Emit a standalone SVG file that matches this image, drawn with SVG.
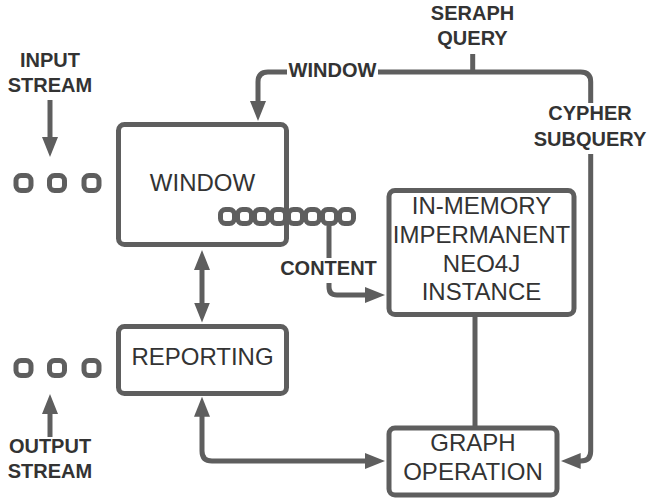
<svg xmlns="http://www.w3.org/2000/svg" width="647" height="499" viewBox="0 0 647 499">
<style>
.box{fill:#fff;stroke:#5e5e5e;stroke-width:5}
.bead{fill:#fff;stroke:#5e5e5e;stroke-width:5}
.ln{fill:none;stroke:#5e5e5e;stroke-width:5}
.nt{font-family:"Liberation Sans",Arial,sans-serif;font-size:24px;fill:#333;text-anchor:middle}
.lb{font-family:"Liberation Sans",Arial,sans-serif;font-size:20px;font-weight:bold;fill:#333;text-anchor:middle}
</style>
<defs>
<marker id="ah" markerUnits="userSpaceOnUse" viewBox="0 0 20 16" markerWidth="20" markerHeight="16" refX="8" refY="8" orient="auto-start-reverse">
<path d="M0,0 L20,8 L0,16 z" fill="#5e5e5e"/>
</marker>
</defs>
<rect width="647" height="499" fill="#fff"/>

<g id="input-stream">
<rect class="bead" x="16" y="175.5" width="15" height="15" rx="5"/>
<rect class="bead" x="49.5" y="175.5" width="15" height="15" rx="5"/>
<rect class="bead" x="84" y="175.5" width="15" height="15" rx="5"/>
<text class="lb" x="50" y="67">INPUT</text>
<text class="lb" x="50" y="92">STREAM</text>
</g>

<g id="output-stream">
<rect class="bead" x="16" y="360.5" width="15" height="15" rx="5"/>
<rect class="bead" x="49.5" y="360.5" width="15" height="15" rx="5"/>
<rect class="bead" x="84" y="360.5" width="15" height="15" rx="5"/>
<text class="lb" x="50" y="453">OUTPUT</text>
<text class="lb" x="50" y="478">STREAM</text>
</g>

<g id="window">
<rect class="box" x="118.5" y="124.5" width="168" height="120" rx="6"/>
<text class="nt" x="202.5" y="191">WINDOW</text>
</g>

<g id="content-chain">
<rect class="bead" x="220.5" y="209.5" width="14" height="14" rx="5"/>
<rect class="bead" x="237.5" y="209.5" width="14" height="14" rx="5"/>
<rect class="bead" x="254.5" y="209.5" width="14" height="14" rx="5"/>
<rect class="bead" x="271.5" y="209.5" width="14" height="14" rx="5"/>
<rect class="bead" x="288.5" y="209.5" width="14" height="14" rx="5"/>
<rect class="bead" x="305.5" y="209.5" width="14" height="14" rx="5"/>
<rect class="bead" x="322.5" y="209.5" width="14" height="14" rx="5"/>
<rect class="bead" x="339.5" y="209.5" width="14" height="14" rx="5"/>
<line class="ln" x1="286.5" y1="205" x2="286.5" y2="228"/>
</g>

<g id="reporting">
<rect class="box" x="118.5" y="326.5" width="168" height="67" rx="6"/>
<text class="nt" x="202.5" y="365">REPORTING</text>
</g>

<g id="neo4j">
<rect class="box" x="389" y="190.5" width="185" height="124" rx="6"/>
<text class="nt" x="481.5" y="214">IN-MEMORY</text>
<text class="nt" x="481.5" y="243">IMPERMANENT</text>
<text class="nt" x="481.5" y="271.5">NEO4J</text>
<text class="nt" x="481.5" y="300">INSTANCE</text>
</g>

<g id="graph-operation">
<rect class="box" x="389" y="428" width="168" height="67" rx="6"/>
<text class="nt" x="473" y="451">GRAPH</text>
<text class="nt" x="473" y="480">OPERATION</text>
</g>

<g id="seraph-query">
<text class="lb" x="472.5" y="20">SERAPH</text>
<text class="lb" x="472.5" y="45">QUERY</text>
</g>

<g id="connectors">
<path class="ln" d="M50 100 V145" marker-end="url(#ah)"/>
<path class="ln" d="M50 437 V406" marker-end="url(#ah)"/>
<path class="ln" d="M472.7 54 V72"/>
<path class="ln" d="M378 72 H580.7 Q590.7 72 590.7 82 V103"/>
<path class="ln" d="M287 72 H268 Q258 72 258 82 V109" marker-end="url(#ah)"/>
<text class="lb" x="332.5" y="77">WINDOW</text>
<path class="ln" d="M590.7 154 V451 Q590.7 461 580.7 461 H572.7" marker-end="url(#ah)"/>
<text class="lb" x="590" y="120">CYPHER</text>
<text class="lb" x="590" y="146">SUBQUERY</text>
<path class="ln" d="M202 262 V310.5" marker-start="url(#ah)" marker-end="url(#ah)"/>
<path class="ln" d="M202 408.7 V451 Q202 461 212 461 H373" marker-start="url(#ah)" marker-end="url(#ah)"/>
<path class="ln" d="M329 226 V258"/>
<text class="lb" x="328.5" y="275">CONTENT</text>
<path class="ln" d="M329 283 V287 Q329 295 337 295 H373" marker-end="url(#ah)"/>
<path class="ln" d="M475 317 V426"/>
</g>
</svg>
